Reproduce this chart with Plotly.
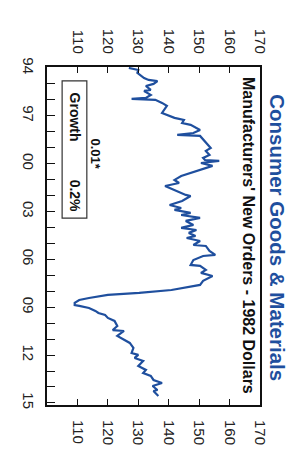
import plotly.graph_objects as go

# Decimal year and index value
years = [1994.0, 1994.13, 1994.31, 1994.63, 1994.75, 1994.82, 1995.0, 1995.13, 1995.38, 1995.44,
         1995.69, 1995.88, 1995.94, 1996.0, 1996.19, 1996.38, 1996.82, 1996.95, 1997.13, 1997.26,
         1997.45, 1997.57, 1997.76, 1997.89, 1998.08, 1998.2, 1998.26, 1998.7, 1999.02, 1999.2,
         1999.45, 1999.64, 1999.77, 1999.83, 1999.96, 2000.14, 2000.4, 2000.58, 2000.77, 2001.02,
         2001.21, 2001.4, 2001.65, 2001.84, 2001.96, 2002.03, 2002.34, 2002.59, 2002.78, 2002.9,
         2003.09, 2003.22, 2003.4, 2003.59, 2003.84, 2004.03, 2004.16, 2004.34, 2004.53, 2004.66,
         2004.85, 2005.1, 2005.16, 2005.47, 2005.72, 2005.79, 2006.04, 2006.35, 2006.41, 2006.66,
         2006.85, 2007.04, 2007.35, 2007.6, 2007.92, 2008.1, 2008.23, 2008.42, 2008.55, 2008.73,
         2008.86, 2008.92, 2009.05, 2009.23, 2009.36, 2009.49, 2009.67, 2009.86, 2010.18, 2010.43,
         2010.49, 2010.8, 2011.05, 2011.24, 2011.55, 2011.87, 2011.99, 2012.18, 2012.37, 2012.68,
         2012.93, 2013.12, 2013.31, 2013.56, 2013.75, 2013.94, 2014.19, 2014.25, 2014.56]
values = [126.9, 130.0, 129.7, 131.9, 133.4, 136.3, 135.0, 132.5, 134.1, 131.9,
          134.1, 132.5, 127.8, 135.6, 137.8, 139.4, 137.8, 139.7, 141.9, 145.0,
          144.4, 147.2, 148.8, 150.3, 148.1, 142.8, 150.3, 152.2, 153.8, 152.2,
          153.4, 151.3, 151.9, 156.6, 150.6, 154.4, 150.3, 147.2, 144.1, 141.9,
          143.4, 138.8, 141.9, 144.1, 145.6, 147.2, 144.4, 140.3, 144.1, 141.9,
          147.2, 144.1, 150.3, 145.6, 148.1, 144.1, 149.1, 146.6, 148.8, 145.9,
          150.3, 148.1, 152.2, 153.4, 155.3, 151.3, 148.1, 147.2, 150.3, 152.2,
          150.6, 154.4, 151.3, 150.3, 140.9, 130.3, 120.0, 113.8, 110.6, 109.1,
          109.1, 110.6, 113.8, 115.9, 116.9, 119.1, 120.0, 122.2, 123.1, 121.6,
          125.3, 123.1, 125.3, 127.2, 128.4, 127.8, 130.0, 128.8, 131.6, 130.0,
          132.5, 131.6, 134.1, 135.0, 137.8, 134.7, 136.3, 135.0, 136.6]

year_ticks = list(range(1994, 2016))
year_labels = [("%02d" % (y % 100)) if (y - 1994) % 3 == 0 else "" for y in year_ticks]
value_ticks = [110, 120, 130, 140, 150, 160, 170]
value_labels = [str(v) for v in value_ticks]

title = "Consumer Goods & Materials"
subtitle = "Manufacturers' New Orders - 1982 Dollars"
growth_label = "Growth"
growth_value = "0.2%"
signif = "0.01*"

BLUE = "#1f4f9e"
FONT = "Liberation Sans, Arial, sans-serif"

fig = go.Figure()
fig.add_trace(go.Scatter(x=values, y=years, mode="lines",
                         line=dict(color=BLUE, width=2.2), hoverinfo="skip", showlegend=False))
# transparent copy to activate the top value axis
fig.add_trace(go.Scatter(x=values, y=years, xaxis="x2", mode="lines",
                         line=dict(color="rgba(0,0,0,0)", width=0), hoverinfo="skip", showlegend=False))

axis_font = dict(family=FONT, size=15, color="#222")
fig.update_layout(
    width=296, height=455,
    margin=dict(l=27, r=44, t=59, b=58),
    paper_bgcolor="white", plot_bgcolor="white",
    font=dict(family=FONT),
    xaxis=dict(range=[100, 170], tickvals=value_ticks, ticktext=value_labels,
               ticks="inside", ticklen=6, tickwidth=1.2, tickcolor="#111",
               tickangle=90, tickfont=axis_font, ticklabelstandoff=10,
               showline=True, linecolor="#111", linewidth=2, mirror=True,
               showgrid=False, zeroline=False),
    xaxis2=dict(range=[100, 170], overlaying="x", side="top", tickvals=value_ticks,
                ticktext=value_labels, ticks="inside", ticklen=6, tickwidth=1.2,
                tickcolor="#111", tickangle=90, tickfont=axis_font, ticklabelstandoff=10,
                showline=False, showgrid=False, zeroline=False),
    yaxis=dict(range=[2015.13, 1993.94], tickvals=year_ticks, ticktext=year_labels,
               ticks="inside", ticklen=8, tickwidth=1.2, tickcolor="#111",
               tickangle=90, tickfont=axis_font, ticklabelstandoff=4,
               showline=True, linecolor="#111", linewidth=2, mirror=True,
               showgrid=False, zeroline=False),
)

fig.add_shape(type="rect", xref="paper", yref="paper", x0=0.071, x1=0.187, y0=0.553, y1=0.959,
              line=dict(color="#333", width=1.2), fillcolor="rgba(0,0,0,0)")

def ann(text, x, y, size, color="#111", bold=True):
    fig.add_annotation(text=("<b>%s</b>" % text) if bold else text, xref="paper", yref="paper",
                       x=x, y=y, showarrow=False, textangle=90,
                       font=dict(family=FONT, size=size, color=color),
                       xanchor="center", yanchor="middle")

ann(title, 1.084, 0.494, 20.5, BLUE)
ann(subtitle, 0.947, 0.501, 16)
ann(growth_label, 0.129, 0.852, 14)
ann(growth_value, 0.129, 0.618, 14)
ann(signif, 0.227, 0.743, 13)

fig.write_html("out.html")
